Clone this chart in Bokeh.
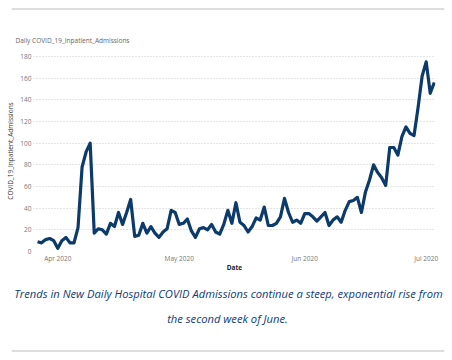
import pandas as pd
from bokeh.plotting import figure
from bokeh.models import (ColumnDataSource, FixedTicker, DatetimeTickFormatter,
                          Range1d, Span)
from bokeh.layouts import column
from bokeh.embed import file_html
from bokeh.resources import INLINE
from bokeh.core.properties import value

# ---------------- data ----------------
start_date = "2020-03-27"
admissions = [
    9, 8, 11, 12, 10, 3, 10, 13, 8, 8, 22, 78, 92, 100, 17, 21, 20, 16, 26, 23,
    36, 25, 36, 48, 14, 15, 26, 17, 23, 17, 13, 18, 21, 38, 36, 25, 26, 30, 19, 13,
    21, 22, 20, 25, 18, 16, 25, 38, 26, 45, 27, 24, 18, 23, 31, 29, 41, 24, 24, 26,
    32, 49, 36, 27, 29, 26, 35, 35, 32, 28, 32, 36, 24, 29, 32, 27, 38, 46, 47, 50,
    36, 55, 66, 80, 73, 68, 61, 96, 96, 89, 106, 115, 109, 107, 133, 162, 175, 146, 156,
]
y_ticks = [0, 20, 40, 60, 80, 100, 120, 140, 160, 180]
x_tick_dates = ["2020-04-01", "2020-05-01", "2020-06-01", "2020-07-01"]
chart_title = "Daily COVID_19_Inpatient_Admissions"
y_label = "COVID_19_Inpatient_Admissions"
x_label = "Date"
caption_lines = [
    "Trends in New Daily Hospital COVID Admissions continue a steep, exponential rise from",
    "the second week of June.",
]

dates = pd.date_range(start_date, periods=len(admissions), freq="D")
src = ColumnDataSource(dict(date=dates, value=admissions))

FONT = "Open Sans"
LINE_COLOR = "#0b3a6b"
CAPTION_COLOR = "#0e3a78"
SEP_COLOR = "#dedede"
W = 452
TOP_H = 46
CHART_H = 228
CAP_H = 360 - TOP_H - CHART_H


def blank_fig(height, x_range, y_range):
    fig = figure(width=W, height=height, output_backend="svg", toolbar_location=None,
                 x_axis_location=None, y_axis_location=None, title=None,
                 min_border_left=11, min_border_right=8, min_border_top=0,
                 min_border_bottom=0, x_range=x_range, y_range=y_range,
                 frame_align=False)
    fig.grid.visible = False
    fig.outline_line_color = None
    return fig


# ---------------- header: separator + chart title ----------------
top = blank_fig(TOP_H, Range1d(11, W - 8), Range1d(0, TOP_H))
top.add_layout(Span(location=TOP_H - 8.5, dimension="width", line_color=SEP_COLOR,
                    line_width=2))
title_src = ColumnDataSource(dict(x=[15], y=[TOP_H - 40], text=[chart_title]))
top.text("x", "y", text="text", source=title_src, text_font=value(FONT),
         text_font_size="6.5px", text_color="#666666", text_align="left",
         text_baseline="middle")

# ---------------- chart ----------------
x_start = pd.Timestamp(start_date) - pd.Timedelta(days=1)
x_end = x_start + pd.Timedelta(days=99.3)
p = figure(width=W, height=CHART_H, output_backend="svg", toolbar_location=None,
           x_axis_type="datetime", title=None,
           x_range=Range1d(x_start, x_end), y_range=Range1d(0, 185.5),
           min_border_left=33, min_border_right=17, min_border_top=4,
           min_border_bottom=20, frame_align=False)
p.outline_line_color = None

p.line("date", "value", source=src, line_width=3.2, line_color=LINE_COLOR,
       line_join="round")

p.xgrid.visible = False
p.ygrid.grid_line_color = "#c8c8c8"
p.ygrid.grid_line_dash = "1 2"
p.ygrid.grid_line_width = 1

p.yaxis.ticker = FixedTicker(ticks=y_ticks)
p.xaxis.ticker = FixedTicker(ticks=[pd.Timestamp(d).value / 1e6 for d in x_tick_dates])
fmt = "%b %Y"
p.xaxis.formatter = DatetimeTickFormatter(days=fmt, months=fmt, years=fmt, hours=fmt,
                                          minutes=fmt, seconds=fmt, milliseconds=fmt,
                                          microseconds=fmt, minsec=fmt, hourmin=fmt)
for ax in (p.xaxis[0], p.yaxis[0]):
    ax.axis_line_color = None
    ax.major_tick_line_color = None
    ax.minor_tick_line_color = None
    ax.major_tick_out = 0
    ax.major_tick_in = 0
    ax.minor_tick_out = 0
    ax.minor_tick_in = 0
    ax.major_label_text_font = FONT
    ax.major_label_text_font_size = "6.5px"
    ax.major_label_text_color = "#777777"
    ax.major_label_standoff = 2
    ax.axis_label_text_font = FONT
    ax.axis_label_text_font_size = "6.5px"

p.xaxis.axis_label = x_label
p.xaxis.axis_label_text_font_style = "bold"
p.xaxis.axis_label_text_color = "#222222"
p.xaxis.axis_label_standoff = -3
p.yaxis.axis_label = y_label
p.yaxis.axis_label_text_font_style = "normal"
p.yaxis.axis_label_text_color = "#333333"
p.yaxis.axis_label_standoff = 2

# ---------------- caption ----------------
cap = blank_fig(CAP_H, Range1d(11, W - 8), Range1d(0, CAP_H))
cap_src = ColumnDataSource(dict(x=[228, 227], y=[CAP_H - 19, CAP_H - 44],
                                text=caption_lines))
cap.text("x", "y", text="text", source=cap_src, text_font=value(FONT),
         text_font_size="11.2px", text_font_style="italic", text_color=CAPTION_COLOR,
         text_align="center", text_baseline="middle")
cap.add_layout(Span(location=CAP_H - 76.5, dimension="width", line_color=SEP_COLOR,
                    line_width=2))

layout = column(top, p, cap, spacing=0)
open("out.html", "w").write(file_html(layout, INLINE))
